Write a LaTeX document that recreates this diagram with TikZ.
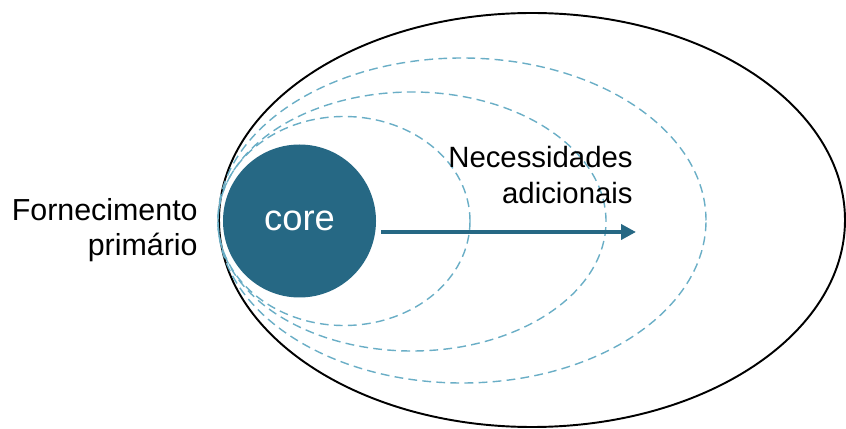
\documentclass[tikz,border=0pt]{standalone}
\usepackage{fontspec}
\setmainfont{Liberation Sans}
\usetikzlibrary{arrows.meta}
\definecolor{coreblue}{RGB}{38,104,132}
\definecolor{ringblue}{RGB}{106,174,198}
\tikzset{
	ring/.style={color=ringblue, line width=0.8pt, dash pattern=on 5pt off 3pt},
	label/.style={align=right, anchor=north east, inner sep=0pt}
}

\begin{document}
\begin{tikzpicture}
			%%%%% START %%%%%
			
			\useasboundingbox (0, 0) rectangle (16.92, -8.58);
			
			\draw[line width=1.1pt] (10.64, -4.40) ellipse (6.26 and 4.14);
			
			\draw[ring] (6.88, -4.42) ellipse (2.52 and 2.09);
			\draw[ring] (8.24, -4.43) ellipse (3.88 and 2.59);
			\draw[ring] (9.24, -4.41) ellipse (4.88 and 3.25);
			
			\node[circle, fill=coreblue, minimum size=3.06cm, inner sep=0pt, text=white, font=\fontsize{20.7}{24}\selectfont] (core) at (5.99, -4.42) {core};
			
			\coordinate (tip) at (12.72, -4.64);
			\draw[color=coreblue, line width=2.3pt, -{Triangle[length=0.3cm, width=0.3cm]}, shorten <=0.1cm] (core.east |- tip) -- (tip);
			
			\node[label, font=\fontsize{17.3}{20.2}\selectfont] (supply) at (3.96, -3.96) {Fornecimento\\primário};
			\node[label, font=\fontsize{16.7}{20.4}\selectfont] (needs) at (12.66, -2.92) {Necessidades\\adicionais};
			
			%%%%% END %%%%%
		\end{tikzpicture}
\end{document}
